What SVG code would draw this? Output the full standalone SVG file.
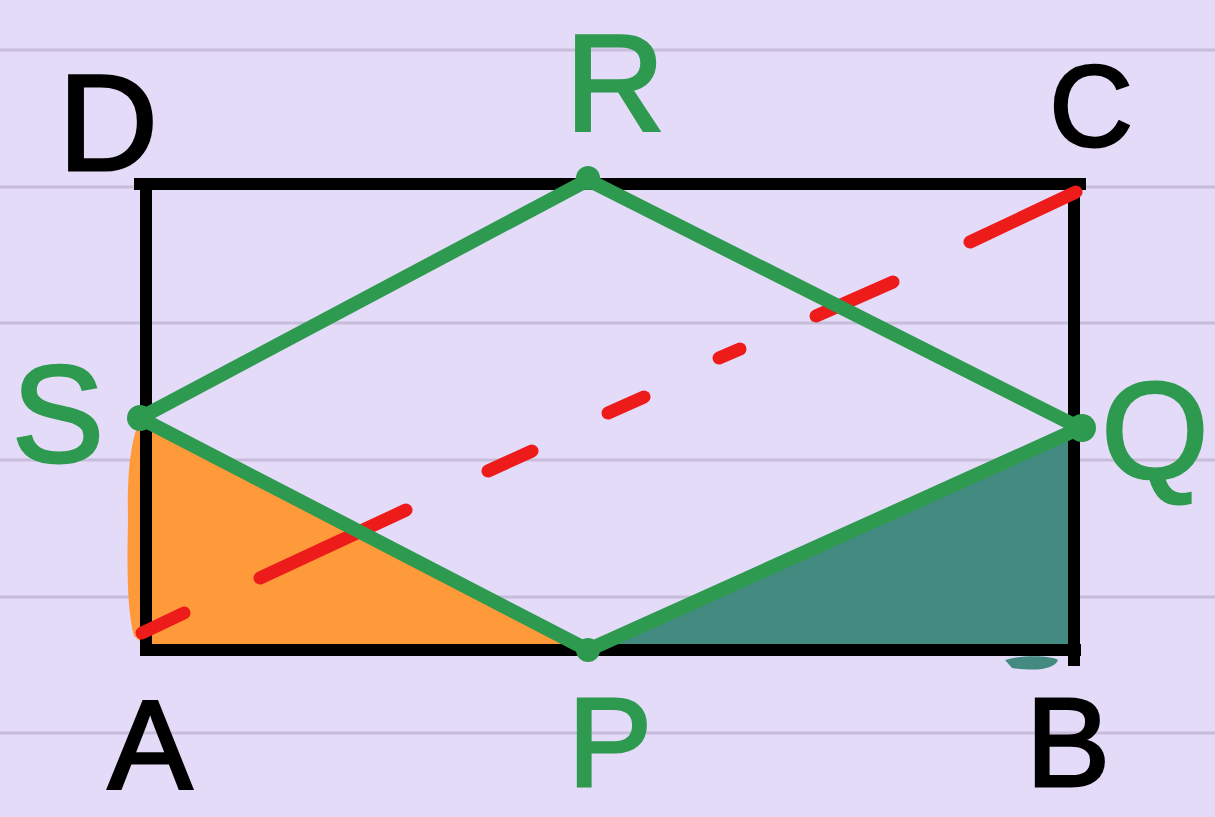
<svg xmlns="http://www.w3.org/2000/svg" width="1215" height="817" viewBox="0 0 1215 817">
<style>
.rule{stroke:#C8BDDA;stroke-width:3}
.blk{stroke:#000;stroke-width:12;fill:none;stroke-linecap:square}
.grn{stroke:#2E9A4F;stroke-width:14;fill:none;stroke-linecap:round;stroke-linejoin:round}
.red{stroke:#EE1B1B;stroke-width:13;stroke-linecap:round}
.lbl{font-family:"Liberation Sans",Arial,sans-serif;font-size:138px;text-anchor:middle}
.bot{font-size:126px}
.k{fill:#000;stroke:#000;stroke-width:3}
.g{fill:#2E9A4F;stroke:#2E9A4F;stroke-width:3}
</style>
<rect width="1215" height="817" fill="#E4DBF8"/>
<g id="rules">
<line class="rule" x1="0" y1="50" x2="1215" y2="50"/>
<line class="rule" x1="0" y1="187" x2="1215" y2="187"/>
<line class="rule" x1="0" y1="323" x2="1215" y2="323"/>
<line class="rule" x1="0" y1="460" x2="1215" y2="460"/>
<line class="rule" x1="0" y1="597" x2="1215" y2="597"/>
<line class="rule" x1="0" y1="733" x2="1215" y2="733"/>
</g>
<g id="fills">
<path d="M140 420 C131 440 127 470 128 520 C127 570 127 610 134 636 L146 646 L585 648 Z" fill="#FF9A3B"/>
<path d="M588 648 L1080 428 L1078 648 Z" fill="#438A80"/>
<path d="M1005 660 C1020 655 1050 655 1058 660 C1055 668 1040 672 1012 668 Z" fill="#438A80"/>
</g>
<g id="rectangle">
<path class="blk" d="M140 184 L1080 184 M146 184 L146 650 L1075 650 M1074 184 L1074 660"/>
</g>
<g id="dashes">
<line class="red" x1="142" y1="633" x2="184" y2="613"/>
<line class="red" x1="260" y1="578" x2="406" y2="510"/>
<line class="red" x1="488" y1="471" x2="532" y2="451"/>
<line class="red" x1="608" y1="413" x2="644" y2="397"/>
<line class="red" x1="719" y1="358" x2="740" y2="349"/>
<line class="red" x1="816" y1="316" x2="893" y2="282"/>
<line class="red" x1="970" y1="242" x2="1076" y2="192"/>
</g>
<g id="rhombus">
<path class="grn" d="M140 418 L588 180 L1080 428 L588 650 Z"/>
<circle cx="140" cy="418" r="13" fill="#2E9A4F"/>
<circle cx="588" cy="178" r="12" fill="#2E9A4F"/>
<circle cx="1082" cy="428" r="14" fill="#2E9A4F"/>
<circle cx="588" cy="650" r="12" fill="#2E9A4F"/>
</g>
<g id="labels">
<text class="lbl k" x="108" y="170">D</text>
<text class="lbl g" x="615" y="130">R</text>
<text class="lbl k" x="1091" y="146" style="font-size:115px">C</text>
<text class="lbl g" x="58" y="462">S</text>
<text class="lbl g" x="1155" y="478">Q</text>
<text class="lbl bot k" x="150" y="788">A</text>
<text class="lbl bot g" x="610" y="786">P</text>
<text class="lbl bot k" x="1068" y="786">B</text>
</g>
</svg>
